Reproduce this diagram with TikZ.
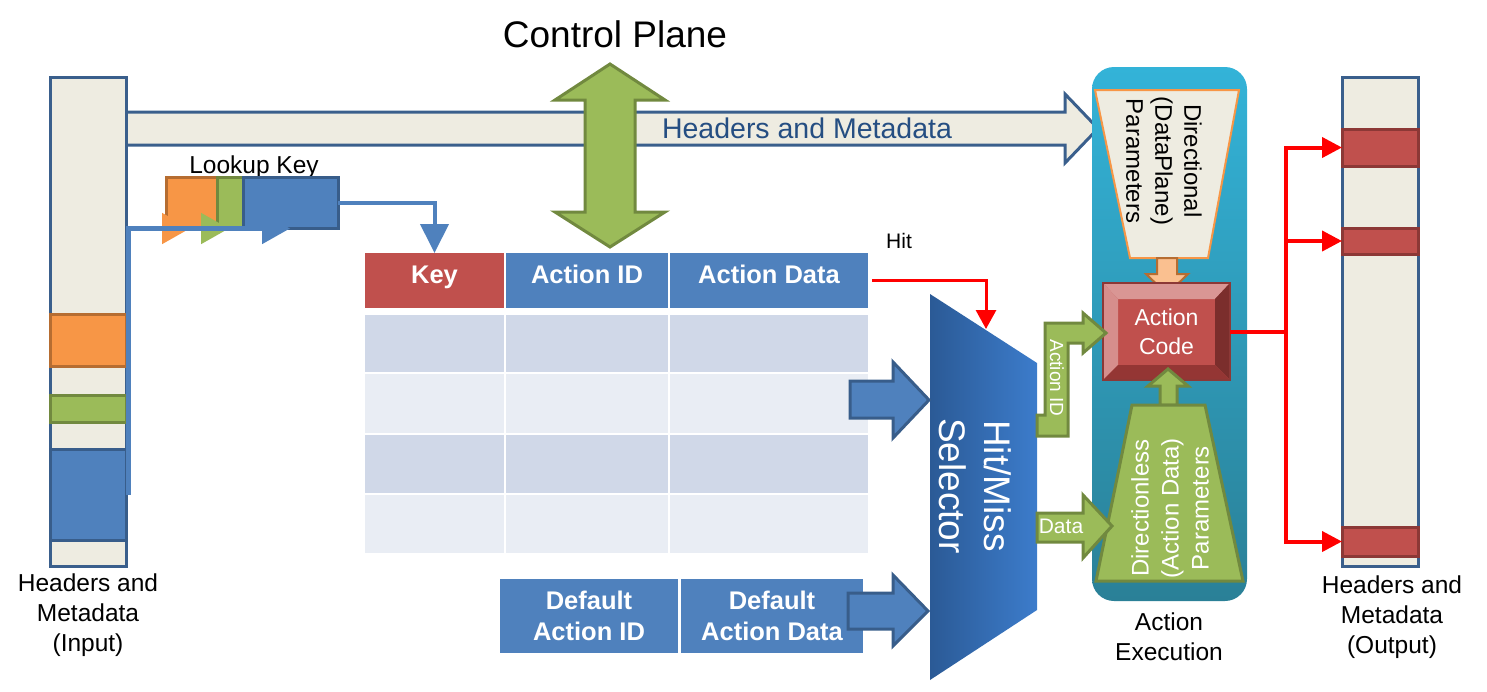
\documentclass[tikz,border=0pt]{standalone}
\usepackage{fontspec}
\setmainfont{Liberation Sans}
\usetikzlibrary{arrows.meta,calc}
\definecolor{beige}{HTML}{EEECE1}
\definecolor{dblue}{HTML}{3A5F8C}
\definecolor{mblue}{HTML}{4F81BD}
\definecolor{bbord}{HTML}{385D8A}
\definecolor{mred}{HTML}{C0504D}
\definecolor{rbord}{HTML}{8C3836}
\definecolor{mgreen}{HTML}{9BBB59}
\definecolor{gbord}{HTML}{71893F}
\definecolor{morange}{HTML}{F79646}
\definecolor{obord}{HTML}{B66D31}
\definecolor{lorange}{HTML}{FAC090}
\definecolor{rowa}{HTML}{D0D8E8}
\definecolor{rowb}{HTML}{E9EDF4}
\definecolor{txtblue}{HTML}{254E82}
\definecolor{tealtop}{HTML}{33B3D8}
\definecolor{tealbot}{HTML}{2A8097}
\definecolor{selL}{HTML}{2B5A96}
\definecolor{selR}{HTML}{3C7CCB}
\definecolor{bevlight}{HTML}{D68E8C}
\definecolor{bevtop}{HTML}{D99694}
\definecolor{bevdark}{HTML}{7B2E2C}
\definecolor{bevbot}{HTML}{943634}
\newcommand{\fs}[2]{\fontsize{#1}{#2}\selectfont}
\begin{document}
\begin{tikzpicture}[x=1pt,y=-1pt,
  rbox/.style={inner sep=0pt, outer sep=0pt, line width=3pt},
  cell/.style={inner sep=0pt, outer sep=0pt, draw=none},
  hdrtxt/.style={text=white, font=\bfseries\fs{25.5}{31}, anchor=base, inner sep=0pt},
  lbl/.style={font=\fs{24.5}{30}, align=center, inner sep=0pt},
  redline/.style={draw=red, line width=4pt, line join=miter},
  redtip/.style={-{Triangle[width=20pt,length=20pt]}},
  blockarrow/.style={fill=mblue, draw=bbord, line width=3pt, line join=miter},
  greenarrow/.style={fill=mgreen, draw=gbord, line width=3pt, line join=miter},
]
\useasboundingbox (0,0) rectangle (1487,691);

% ---------- Headers and Metadata big arrow ----------
\draw[fill=beige, draw=dblue, line width=3pt, line join=miter]
  (124,112) -- (1065,112) -- (1065,94) -- (1098,128.5) -- (1065,163) -- (1065,145) -- (124,145) -- cycle;
\node[text=txtblue, font=\fs{28.5}{30}, anchor=base, inner sep=0pt] (hmtxt) at (807,138) {Headers and Metadata};

% ---------- Control plane ----------
\node[font=\fs{37}{40}, anchor=base, inner sep=0pt] (cptxt) at (615,47) {Control Plane};
\draw[greenarrow]
  (610,64) -- (665,100) -- (635,100) -- (635,212) -- (665,212) -- (610,247)
  -- (555,212) -- (585,212) -- (585,100) -- (555,100) -- cycle;

% ---------- Input column ----------
\node[rbox, fill=beige, draw=dblue, minimum width=76pt, minimum height=489pt] (incol) at (88,321.5) {};
\node[rbox, fill=morange, draw=obord, minimum width=76pt, minimum height=52pt] (inor) at (88,340) {};
\node[rbox, fill=mgreen, draw=gbord, minimum width=76pt, minimum height=27pt] (ingr) at (88,408.5) {};
\node[rbox, fill=mblue, draw=bbord, minimum width=76pt, minimum height=91pt] (inbl) at (88,494.5) {};
\node[lbl] (inlbl) at (88,615) {Headers and\\Metadata\\(Input)};

% ---------- Lookup key ----------
\node[font=\fs{24.5}{28}, anchor=base, inner sep=0pt] (lktxt) at (254,173) {Lookup Key};
\node[rbox, fill=morange, draw=obord, minimum width=51pt, minimum height=51pt] (lkor) at (191.5,202.5) {};
\node[rbox, fill=mgreen, draw=gbord, minimum width=26pt, minimum height=51pt] (lkgr) at (230,202.5) {};
\node[rbox, fill=mblue, draw=bbord, minimum width=95pt, minimum height=51pt] (lkbl) at (290.5,202.5) {};
\coordinate (ortip) at (190,228.5);
\coordinate (grtip) at (229,228.5);
\coordinate (bltip) at (290,228.5);
\draw[line width=5pt, morange, -{Triangle[width=30pt,length=28pt]}] ([xshift=2.5pt]inor.east) |- (ortip);
\draw[line width=5pt, mgreen, -{Triangle[width=30pt,length=28pt]}] ([xshift=2.5pt]ingr.east) |- (grtip);
\draw[line width=5pt, mblue, -{Triangle[width=30pt,length=28pt]}] ([xshift=2.5pt]inbl.east) |- (bltip);

% ---------- Table ----------
\node[cell, fill=mred, minimum width=139pt, minimum height=55pt] (key) at (434.5,280.5) {};
\node[cell, fill=mblue, minimum width=162pt, minimum height=55pt] (aid) at (587,280.5) {};
\node[cell, fill=mblue, minimum width=198pt, minimum height=55pt] (ad) at (769,280.5) {};
\node[hdrtxt] (keyt) at (434.5,283) {Key};
\node[hdrtxt] (aidt) at (587,283) {Action ID};
\node[hdrtxt] (adt) at (769,283) {Action Data};
\foreach \r/\ya/\yb/\col in {1/315/372/rowa, 2/374/433/rowb, 3/435/493/rowa, 4/495/553/rowb}{
  \foreach \c/\xa/\xb in {1/365/504, 2/506/668, 3/670/868}{
    \node[cell, fill=\col, minimum width={\xb-\xa}, minimum height={\yb-\ya}] (r\r c\c) at ({(\xa+\xb)/2},{(\ya+\yb)/2}) {};
  }
}
\draw[line width=4pt, mblue, -{Triangle[width=28pt,length=29pt]}] (lkbl.east) -| (key.north);

% ---------- Default boxes ----------
\node[cell, fill=mblue, minimum width=178pt, minimum height=74pt, text=white, font=\bfseries\fs{25.5}{31}, align=center] (daid) at (589,616) {Default\\Action ID};
\node[cell, fill=mblue, minimum width=182pt, minimum height=74pt, text=white, font=\bfseries\fs{25.5}{31}, align=center] (dad) at (772,616) {Default\\Action Data};

% ---------- Selector ----------
\path[left color=selL, right color=selR] (930,294) -- (1037,363) -- (1037,610) -- (930,680) -- cycle;
\node[rotate=-90, align=center, text=white, font=\fs{37}{45}, inner sep=0pt] (seltxt) at (975.5,486) {Hit/Miss\\Selector};
\draw[blockarrow] (850,381) -- (893,381) -- (893,362) -- (929,400) -- (893,438) -- (893,418) -- (850,418) -- cycle;
\draw[blockarrow] (848,593) -- (893,593) -- (893,575) -- (928,611) -- (893,646) -- (893,629) -- (848,629) -- cycle;

% Hit
\node[font=\fs{21}{24}, anchor=base, inner sep=0pt] (hittxt) at (899,248) {Hit};
\coordinate (hitend) at (986,329);
\draw[draw=red, line width=3pt, -{Triangle[width=20pt,length=19pt]}] ([xshift=4pt]ad.east) -| (hitend);

% ---------- Action execution ----------
\node[inner sep=0pt, minimum width=155pt, minimum height=534pt, rounded corners=22pt, top color=tealtop, bottom color=tealbot] (ae) at (1169.5,334) {};
\node[lbl] (aelbl) at (1169,637) {Action\\Execution};

\draw[fill=beige, draw=morange, line width=2pt] (1095,90) -- (1239,90) -- (1208,258) -- (1130,258) -- cycle;
\node[rotate=-90, align=center, font=\fs{24}{29}, inner sep=0pt] (dirtxt) at (1164,161) {Directional\\(DataPlane)\\Parameters};
\draw[fill=lorange, draw=obord, line width=2pt, line join=miter]
  (1157,258) -- (1177,258) -- (1177,274) -- (1188,274) -- (1167,294) -- (1146,274) -- (1157,274) -- cycle;

% Action code with bevel
\node[inner sep=0pt, outer sep=0pt, fill=mred, draw=rbord, line width=2pt, minimum width=127pt, minimum height=97pt] (ac) at (1166.5,331.5) {};
\fill[bevtop] (1104,284) -- (1229,284) -- (1215,299) -- (1118,299) -- cycle;
\fill[bevlight] (1104,284) -- (1118,299) -- (1118,365) -- (1104,379) -- cycle;
\fill[bevdark] (1229,284) -- (1229,379) -- (1215,365) -- (1215,299) -- cycle;
\fill[bevbot] (1104,379) -- (1229,379) -- (1215,365) -- (1118,365) -- cycle;
\draw[rbord, line width=2pt] (ac.north west) rectangle (ac.south east);
\node[align=center, text=white, font=\fs{23}{29}, inner sep=0pt] (actxt) at (1166.5,332) {Action\\Code};

\draw[greenarrow] (1160,405) -- (1160,386) -- (1148,386) -- (1168,369) -- (1188,386) -- (1177,386) -- (1177,405) -- cycle;
\draw[greenarrow] (1132,405) -- (1205,405) -- (1243,581) -- (1096,581) -- cycle;
\node[rotate=90, align=center, text=white, font=\fs{24}{30}, inner sep=0pt] (dltxt) at (1170,508) {Directionless\\(Action Data)\\Parameters};

% green arrows from selector
\draw[greenarrow] (1037,415) -- (1045,415) -- (1045,323) -- (1083,323) -- (1083,313) -- (1106,333) -- (1083,353) -- (1083,343) -- (1068,343) -- (1068,436) -- (1037,436) -- cycle;
\node[rotate=-90, text=white, font=\fs{19}{22}, inner sep=0pt] (aidlbl) at (1057,378) {Action ID};
\draw[greenarrow] (1037,513) -- (1083,513) -- (1083,495) -- (1112,526) -- (1083,558) -- (1083,542) -- (1037,542) -- cycle;
\node[text=white, font=\fs{21}{24}, inner sep=0pt] (datalbl) at (1061,526) {Data};

% ---------- Output column ----------
\node[rbox, fill=beige, draw=dblue, minimum width=76pt, minimum height=489pt] (outcol) at (1380,321.5) {};
\node[rbox, fill=mred, draw=rbord, minimum width=76pt, minimum height=37pt] (ob1) at (1380,147.5) {};
\node[rbox, fill=mred, draw=rbord, minimum width=76pt, minimum height=26pt] (ob2) at (1380,241) {};
\node[rbox, fill=mred, draw=rbord, minimum width=76pt, minimum height=29pt] (ob3) at (1380,541.5) {};
\node[lbl] (outlbl) at (1392,617) {Headers and\\Metadata\\(Output)};

\coordinate (jn) at (1286,331.5);
\draw[redline] (ac.east) -- (jn);
\draw[redline, redtip] (jn) |- (ob1.west);
\draw[redline, redtip] (jn) |- (ob2.west);
\draw[redline, redtip] (jn) |- (ob3.west);
\end{tikzpicture}
\end{document}
